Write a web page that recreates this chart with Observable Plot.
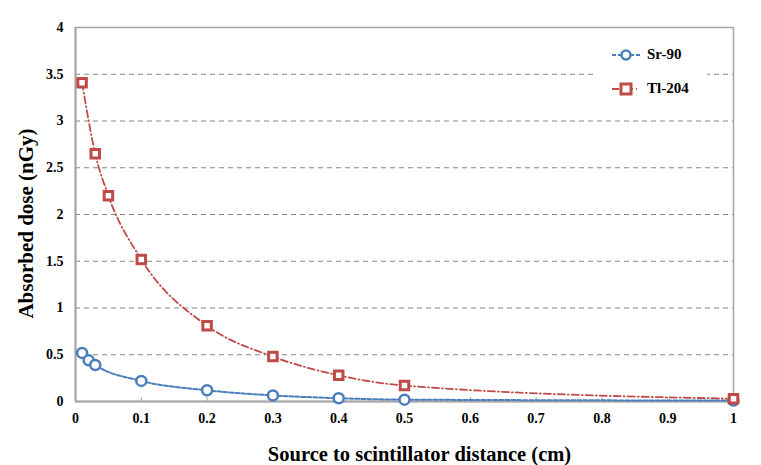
<!DOCTYPE html>
<html><head><meta charset="utf-8">
<script src="https://cdn.jsdelivr.net/npm/d3@7"></script>
<script src="https://cdn.jsdelivr.net/npm/@observablehq/plot@0.6"></script>
<style>
body{margin:0;background:#fff;font-family:"Liberation Serif","Times New Roman",serif;}
#wrap{position:relative;width:761px;height:465px;}
#legend{position:absolute;left:597px;top:37px;width:110px;height:68px;background:#fff;font-weight:bold;font-size:15px;}
.row{position:absolute;left:14px;display:flex;align-items:center;}
.row span{margin-left:6px;}
</style></head>
<body><div id="wrap"><div id="chart"></div>
<div id="legend">
 <div class="row" style="top:9px"><svg width="30" height="14"><line x1="1" x2="29" y1="7" y2="7" stroke="#4a7ebb" stroke-width="2" stroke-dasharray="4,2"/><circle cx="15" cy="7" r="4.5" fill="#fff" stroke="#4a7ebb" stroke-width="2.5"/></svg><span>Sr-90</span></div>
 <div class="row" style="top:43px"><svg width="30" height="14"><line x1="1" x2="29" y1="7" y2="7" stroke="#be4b48" stroke-width="2" stroke-dasharray="7,3,1,3"/><rect x="10" y="2" width="10" height="10" fill="#fff" stroke="#be4b48" stroke-width="3"/></svg><span>Tl-204</span></div>
</div></div>
<script>
const srX = [0.01, 0.02, 0.03, 0.1, 0.2, 0.3, 0.4, 0.5, 1];
const srY = [0.52, 0.44, 0.39, 0.22, 0.12, 0.065, 0.035, 0.02, 0.01];
const tlX = [0.01, 0.03, 0.05, 0.1, 0.2, 0.3, 0.4, 0.5, 1];
const tlY = [3.41, 2.65, 2.2, 1.52, 0.81, 0.48, 0.28, 0.17, 0.03];
const xTicks = [0, 0.1, 0.2, 0.3, 0.4, 0.5, 0.6, 0.7, 0.8, 0.9, 1];
const yTicks = [0, 0.5, 1, 1.5, 2, 2.5, 3, 3.5, 4];
const yGrid = [0.5, 1, 1.5, 2, 2.5, 3, 3.5];

const sr = srX.map((x, i) => ({x, y: srY[i]}));
const tl = tlX.map((x, i) => ({x, y: tlY[i]}));
const blue = "#4a7ebb", red = "#be4b48";

const chart = Plot.plot({
  width: 761, height: 465,
  marginLeft: 75, marginRight: 28, marginTop: 27, marginBottom: 64,
  style: {fontFamily: "'Liberation Serif','Times New Roman',serif", fontWeight: "bold", fontSize: "14px", color: "#000", background: "#fff"},
  x: {domain: [0, 1]},
  y: {domain: [0, 4]},
  marks: [
    Plot.ruleY(yGrid, {stroke: "#868686", strokeWidth: 1, strokeDasharray: "5,4"}),
    Plot.frame({stroke: "#a6a6a6", strokeWidth: 1.5}),
    Plot.ruleX([0], {stroke: "#a6a6a6", strokeWidth: 2}),
    Plot.ruleY([0], {stroke: "#a6a6a6", strokeWidth: 2}),
    Plot.tickX(xTicks, {x: d => d, stroke: "#a6a6a6", insetTop: 370}),
    Plot.axisX({ticks: xTicks, tickSize: 0, tickPadding: 12, tickFormat: d => String(d), fontSize: 14, fontWeight: "bold", label: null}),
    Plot.axisY({ticks: yTicks, tickSize: 0, tickPadding: 12, tickFormat: d => String(d), fontSize: 14, fontWeight: "bold", label: null}),
    Plot.text(["Source to scintillator distance (cm)"], {frameAnchor: "bottom", dy: 59, dx: 15, fontSize: 20.5, fontWeight: "bold", text: d => d}),
    Plot.text(["Absorbed dose (nGy)"], {frameAnchor: "left", textAnchor: "middle", dx: -49, dy: 9, rotate: -90, fontSize: 21, fontWeight: "bold", text: d => d}),
    Plot.line(sr, {x: "x", y: "y", curve: "monotone-x", stroke: blue, strokeWidth: 2, strokeDasharray: "4,2"}),
    Plot.line(tl, {x: "x", y: "y", curve: "monotone-x", stroke: red, strokeWidth: 1.8, strokeDasharray: "7,3,1,3"}),
    Plot.dot(sr, {x: "x", y: "y", r: 5, fill: "#fff", stroke: blue, strokeWidth: 2.5}),
    Plot.dot(tl, {x: "x", y: "y", symbol: "square", r: 4.8, fill: "#fff", stroke: red, strokeWidth: 3})
  ]
});
document.getElementById("chart").appendChild(chart);
</script></body></html>
